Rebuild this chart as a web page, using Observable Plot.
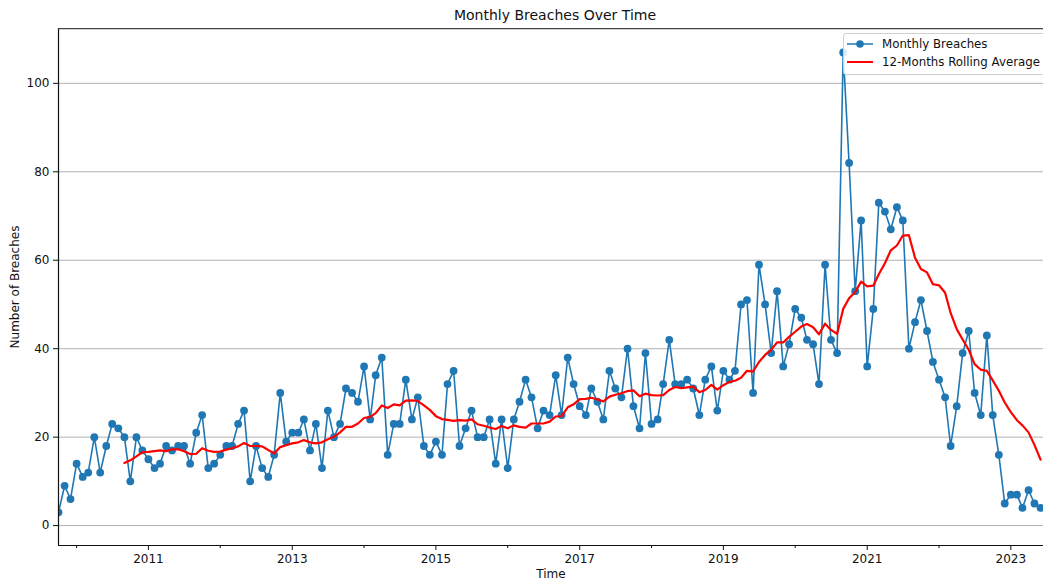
<!DOCTYPE html>
<html><head><meta charset="utf-8">
<script src="https://cdn.jsdelivr.net/npm/d3@7"></script>
<script src="https://cdn.jsdelivr.net/npm/@observablehq/plot@0.6"></script>
<style>
body{margin:0;background:#fff;font-family:"DejaVu Sans",sans-serif;}
#wrap{position:relative;width:1043px;height:584px;overflow:hidden;background:#fff;}
#title{position:absolute;left:0;top:0;width:1110px;height:28px;text-align:center;font-size:14px;line-height:30px;color:#111;}
#chart{position:absolute;left:0;top:28px;}
#legend{position:absolute;left:843px;top:33px;width:215px;height:40px;border:1px solid #d0d0d0;border-radius:3px;background:rgba(255,255,255,0.85);font-size:11.8px;color:#111;}
#legend .row{position:absolute;left:3px;height:18px;display:flex;align-items:center;white-space:nowrap;}
#legend svg{margin-right:9px;}
</style></head>
<body><div id="wrap">
<div id="title">Monthly Breaches Over Time</div>
<div id="chart"></div>
<div id="legend">
 <div class="row" style="top:1px"><svg width="26" height="10"><line x1="0" y1="5" x2="26" y2="5" stroke="#1f77b4" stroke-width="1.5"/><circle cx="13" cy="5" r="3.8" fill="#1f77b4"/></svg>Monthly Breaches</div>
 <div class="row" style="top:19px"><svg width="26" height="10"><line x1="0" y1="5" x2="26" y2="5" stroke="red" stroke-width="2"/></svg>12-Months Rolling Average</div>
</div>
</div>
<script>
// first month of the series: October 2009
const startYear = 2009;
const startMonthIndex = 9;
const monthlyBreaches = [
  3, 9, 6,
  14, 11, 12, 20, 12, 18, 23, 22, 20, 10, 20, 17,
  15, 13, 14, 18, 17, 18, 18, 14, 21, 25, 13, 14,
  16, 18, 18, 23, 26, 10, 18, 13, 11, 16, 30, 19,
  21, 21, 24, 17, 23, 13, 26, 20, 23, 31, 30, 28,
  36, 24, 34, 38, 16, 23, 23, 33, 24, 29, 18, 16,
  19, 16, 32, 35, 18, 22, 26, 20, 20, 24, 14, 24,
  13, 24, 28, 33, 29, 22, 26, 25, 34, 25, 38, 32,
  27, 25, 31, 28, 24, 35, 31, 29, 40, 27, 22, 39,
  23, 24, 32, 42, 32, 32, 33, 31, 25, 33, 36, 26,
  35, 33, 35, 50, 51, 30, 59, 50, 39, 53, 36, 41,
  49, 47, 42, 41, 32, 59, 42, 39, 107, 82, 53, 69,
  36, 49, 73, 71, 67, 72, 69, 40, 46, 51, 44, 37,
  33, 29, 18, 27, 39, 44, 30, 25, 43, 25, 16, 5,
  7, 7, 4, 8, 5, 4
];
const rollingWindow = 12;
const yTicks = [0, 20, 40, 60, 80, 100];
const xMajorYears = [2011, 2013, 2015, 2017, 2019, 2021, 2023];
const xMinorYears = [2010, 2012, 2014, 2016, 2018, 2020, 2022];
const yDomain = [-4.5, 112.4];

const data = monthlyBreaches.map((v, i) => ({date: new Date(Date.UTC(startYear, startMonthIndex + i, 1)), value: v}));
const xDomain = [data[0].date, new Date(Date.UTC(2023, 5, 16))];
const majorDates = xMajorYears.map(y => new Date(Date.UTC(y, 0, 1)));
const minorDates = xMinorYears.map(y => new Date(Date.UTC(y, 0, 1)));

const chart = Plot.plot({
  width: 1043,
  height: 556,
  marginLeft: 58,
  marginRight: 0,
  marginTop: 0,
  marginBottom: 39,
  style: {fontFamily: "DejaVu Sans, sans-serif", fontSize: "12px", color: "#111", background: "#fff"},
  x: {type: "utc", domain: xDomain},
  y: {domain: yDomain},
  marks: [
    Plot.gridY(yTicks, {stroke: "#b0b0b0", strokeOpacity: 1, strokeWidth: 1}),
    Plot.lineY(data, {x: "date", y: "value", stroke: "#1f77b4", strokeWidth: 1.6, clip: true}),
    Plot.dot(data, {x: "date", y: "value", fill: "#1f77b4", r: 3.9, clip: true}),
    Plot.lineY(data, Plot.windowY({k: rollingWindow, anchor: "end", reduce: "mean", strict: true}, {x: "date", y: "value", stroke: "red", strokeWidth: 2.2, clip: true})),
    Plot.ruleX([xDomain[0]], {stroke: "#111", strokeWidth: 1.2}),
    Plot.ruleY([yDomain[0]], {stroke: "#111", strokeWidth: 1.2}),
    Plot.ruleY([yDomain[1]], {stroke: "#444", strokeWidth: 1.6}),
    Plot.axisY(yTicks, {tickSize: 5, tickPadding: 4, fontSize: 12, label: "Number of Breaches", labelAnchor: "center", labelArrow: "none", labelOffset: 48}),
    Plot.axisX(majorDates, {tickSize: 5, tickPadding: 4, fontSize: 12, tickFormat: d3.utcFormat("%Y"), label: "Time", labelAnchor: "center", labelArrow: "none", labelOffset: 32}),
    Plot.axisX(minorDates, {tickSize: 3, tickFormat: () => "", label: null})
  ]
});
document.getElementById("chart").appendChild(chart);
</script>
</body></html>
